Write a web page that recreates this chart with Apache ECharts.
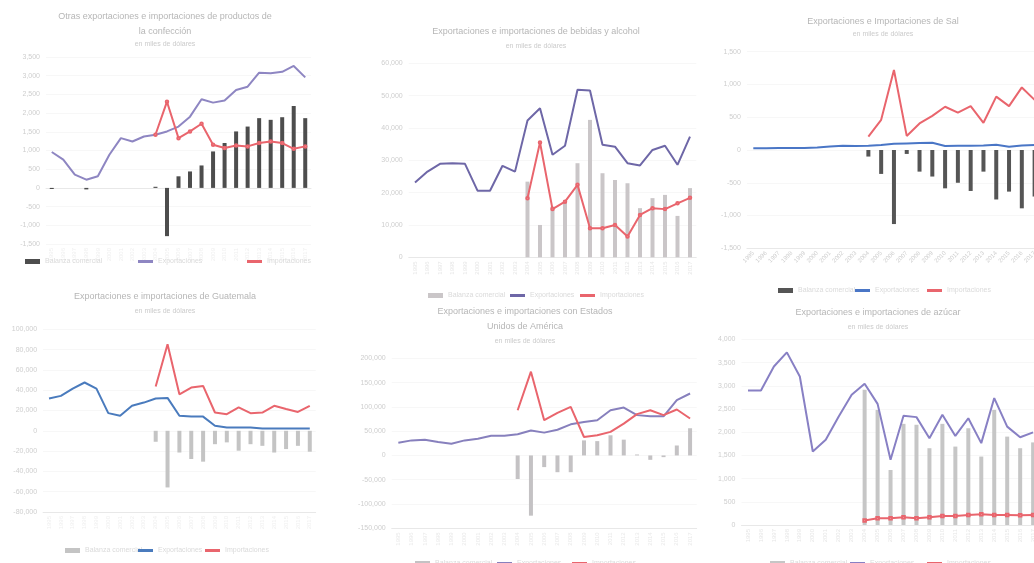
<!DOCTYPE html>
<html>
<head>
<meta charset="utf-8">
<script src="https://cdn.jsdelivr.net/npm/echarts@6/dist/echarts.min.js"></script>
<style>
  html, body { margin: 0; padding: 0; width: 1034px; height: 563px; overflow: hidden; background: #fff; }
  .box { position: absolute; }
</style>
</head>
<body>
<div id="c1" class="box" style="left:0px;top:0px;width:330px;height:272px"></div>
<div id="c2" class="box" style="left:350px;top:0px;width:372px;height:305px"></div>
<div id="c3" class="box" style="left:705px;top:0px;width:356px;height:300px"></div>
<div id="c4" class="box" style="left:0px;top:280px;width:330px;height:283px"></div>
<div id="c5" class="box" style="left:339px;top:290px;width:372px;height:285px"></div>
<div id="c6" class="box" style="left:700px;top:290px;width:356px;height:285px"></div>
<script>
// años (23 categorías por gráfica)
const years = ['1995','1996','1997','1998','1999','2000','2001','2002','2003','2004','2005','2006',
  '2007','2008','2009','2010','2011','2012','2013','2014','2015','2016','2017'];
const names = ['Balanza comercial', 'Exportaciones', 'Importaciones'];
const _ = null;

// 1. otras exportaciones
const c1Exp = [960, 755, 355, 220, 310, 885, 1330, 1240, 1375, 1420, 1510, 1640, 1905, 2370, 2280, 2335, 2620, 2705, 3080, 3065, 3105, 3260, 2955];
const c1Imp = [_, _, _, _, _, _, _, _, _, 1420, 2305, 1330, 1510, 1715, 1155, 1065, 1135, 1110, 1200, 1240, 1200, 1045, 1110];
const c1Bal = [-30, _, _, -40, _, _, _, _, _, 30, -1290, 310, 440, 600, 975, 1200, 1510, 1640, 1865, 1820, 1890, 2190, 1865];

// 2. bebidas y alcohol
const c2Exp = [23100, 26500, 28900, 29100, 28900, 20600, 20600, 28300, 26500, 42300, 46100, 31700, 34500, 51800, 51600, 34800, 34200, 29100, 28400, 33200, 34500, 28600, 37300];
const c2Imp = [_, _, _, _, _, _, _, _, _, 18300, 35500, 14900, 17200, 22400, 9000, 9000, 10000, 6400, 13100, 15200, 14900, 16700, 18400];
const c2Bal = [_, _, _, _, _, _, _, _, _, 23400, 10000, 15700, 17700, 29100, 42500, 26000, 23900, 22900, 15200, 18300, 19300, 12800, 21400];

// 3. sal
const c3Exp = [25, 25, 30, 30, 30, 40, 55, 65, 60, 65, 75, 95, 100, 105, 110, 60, 65, 65, 70, 80, 50, 70, 75];
const c3Imp = [_, _, _, _, _, _, _, _, _, 205, 460, 1220, 215, 405, 520, 660, 570, 670, 415, 815, 670, 955, 765];
const c3Bal = [_, _, _, _, _, _, _, _, _, -100, -365, -1130, -60, -330, -405, -585, -500, -625, -330, -755, -635, -890, -710];

// 4. guatemala
const c4Exp = [31800, 34400, 41600, 47600, 41600, 17400, 14800, 24600, 27800, 31800, 32400, 14800, 14000, 14000, 5000, 3200, 3200, 3200, 2200, 2200, 2200, 2200, 2200];
const c4Imp = [_, _, _, _, _, _, _, _, _, 43600, 85200, 36000, 42600, 44200, 18000, 16400, 23000, 17400, 18000, 24600, 21400, 18600, 24600];
const c4Bal = [_, _, _, _, _, _, _, _, _, -10800, -55800, -21400, -27800, -30400, -13200, -11400, -19600, -13200, -14800, -21400, -18000, -14800, -20600];

// 5. estados unidos
const c5Exp = [26000, 31000, 32500, 27500, 24000, 31000, 34500, 40500, 40500, 43500, 51500, 47000, 53000, 64000, 69000, 72500, 93000, 98500, 83000, 80500, 80500, 114000, 127500];
const c5Imp = [_, _, _, _, _, _, _, _, _, 93000, 172500, 72500, 87500, 100000, 38000, 41500, 48500, 65500, 85000, 93000, 83000, 94500, 76000];
const c5Bal = [_, _, _, _, _, _, _, _, _, -48500, -124000, -24000, -34500, -34500, 31000, 29500, 41500, 32500, 2000, -9000, -3500, 20500, 56000];

// 6. azucar
const c6Exp = [2900, 2900, 3415, 3720, 3200, 1585, 1835, 2340, 2805, 3045, 2610, 1405, 2355, 2325, 1870, 2375, 1920, 2300, 1765, 2735, 2120, 1890, 1995];
const c6Imp = [_, _, _, _, _, _, _, _, _, 95, 145, 145, 165, 145, 165, 195, 195, 215, 230, 215, 215, 210, 215];
const c6Bal = [_, _, _, _, _, _, _, _, _, 2915, 2480, 1185, 2180, 2160, 1655, 2180, 1690, 2085, 1475, 2480, 1905, 1655, 1780];

const font = 'Liberation Sans';

function makeChart(id, c) {
  const chart = echarts.init(document.getElementById(id));
  const legends = names.map(function (n, i) {
    return {
      data: [n], left: c.legendX[i], top: c.legendY, icon: 'rect',
      itemWidth: 15, itemHeight: i === 0 ? 5 : 3, padding: 0,
      textStyle: { color: '#dadada', fontSize: 7, fontFamily: font }
    };
  });
  chart.setOption({
    animation: false,
    textStyle: { fontFamily: font },
    title: {
      text: c.title, subtext: c.sub, left: 'center', top: c.titleTop, padding: 0, itemGap: c.gap,
      textStyle: { color: '#b6b6b6', fontSize: 9, fontWeight: 'normal', lineHeight: 15 },
      subtextStyle: { color: '#cbcbcb', fontSize: 7, lineHeight: 10 }
    },
    legend: legends,
    grid: c.grid,
    xAxis: {
      type: 'category', data: years,
      axisLine: { onZero: c.onZero, lineStyle: { color: '#e8e8e8' } },
      axisTick: { show: false },
      axisLabel: { color: c.xColor, fontSize: 6, rotate: c.rotate, interval: 0, margin: 4 }
    },
    yAxis: {
      type: 'value', min: c.min, max: c.max, interval: c.step,
      axisLabel: { color: '#cecece', fontSize: 7, margin: 6 },
      splitLine: { lineStyle: { color: '#f7f7f7' } }
    },
    series: [
      { name: names[0], type: 'bar', data: c.bal, barWidth: 4, itemStyle: { color: c.barColor } },
      { name: names[1], type: 'line', data: c.exp, symbol: 'none', lineStyle: { color: c.expColor, width: 2 }, itemStyle: { color: c.expColor } },
      { name: names[2], type: 'line', data: c.imp, symbol: c.impSymbol, symbolSize: 2.5, showSymbol: c.impSymbol !== 'none',
        lineStyle: { color: '#e9656d', width: 2 }, itemStyle: { color: '#e9656d' } }
    ]
  });
}

makeChart('c1', {
  title: 'Otras exportaciones e importaciones de productos de\nla confección', sub: 'en miles de dólares',
  titleTop: 9.5, gap: 0, grid: { left: 46, right: 19, top: 57, bottom: 28 },
  min: -1500, max: 3500, step: 500, onZero: true, rotate: 90, xColor: '#efefef',
  bal: c1Bal, exp: c1Exp, imp: c1Imp, barColor: '#4d4d4d', expColor: '#8e86c2', impSymbol: 'emptyCircle',
  legendX: [25, 138, 247], legendY: 258
});
makeChart('c2', {
  title: 'Exportaciones e importaciones de bebidas y alcohol', sub: 'en miles de dólares',
  titleTop: 24.5, gap: 2, grid: { left: 58.75, right: 25.75, top: 63.3, bottom: 47.7 },
  min: 0, max: 60000, step: 10000, onZero: false, rotate: 90, xColor: '#e6e6e6',
  bal: c2Bal, exp: c2Exp, imp: c2Imp, barColor: '#cac6c8', expColor: '#6e67a7', impSymbol: 'emptyCircle',
  legendX: [78, 160, 230], legendY: 292
});
makeChart('c3', {
  title: 'Exportaciones e Importaciones de Sal', sub: 'en miles de dólares',
  titleTop: 14.5, gap: 0, grid: { left: 41.9, right: 20, top: 51.7, bottom: 51.7 },
  min: -1500, max: 1500, step: 500, onZero: false, rotate: 45, xColor: '#cdcdcd',
  bal: c3Bal, exp: c3Exp, imp: c3Imp, barColor: '#555555', expColor: '#4a76c6', impSymbol: 'none',
  legendX: [73, 150, 222], legendY: 287
});
makeChart('c4', {
  title: 'Exportaciones e importaciones de Guatemala', sub: 'en miles de dólares',
  titleTop: 9.5, gap: 2, grid: { left: 43.1, right: 14.3, top: 49.3, bottom: 51 },
  min: -80000, max: 100000, step: 20000, onZero: false, rotate: 90, xColor: '#efefef',
  bal: c4Bal, exp: c4Exp, imp: c4Imp, barColor: '#c4c4c4', expColor: '#4a7bbd', impSymbol: 'none',
  legendX: [65, 138, 205], legendY: 267
});
makeChart('c5', {
  title: 'Exportaciones e importaciones con Estados\nUnidos de América', sub: 'en miles de dólares',
  titleTop: 14.5, gap: 2, grid: { left: 52.7, right: 14.3, top: 68.3, bottom: 46.7 },
  min: -150000, max: 200000, step: 50000, onZero: false, rotate: 90, xColor: '#e9e9e9',
  bal: c5Bal, exp: c5Exp, imp: c5Imp, barColor: '#c4c2c4', expColor: '#8780bd', impSymbol: 'none',
  legendX: [76, 158, 233], legendY: 270
});
makeChart('c6', {
  title: 'Exportaciones e importaciones de azúcar', sub: 'en miles de dólares',
  titleTop: 15.5, gap: 2, grid: { left: 41.5, right: 16.4, top: 49.4, bottom: 50 },
  min: 0, max: 4000, step: 500, onZero: false, rotate: 90, xColor: '#e6e6e6',
  bal: c6Bal, exp: c6Exp, imp: c6Imp, barColor: '#c6c6c6', expColor: '#8880c4', impSymbol: 'emptyRect',
  legendX: [70, 150, 227], legendY: 270
});
</script>
</body>
</html>
